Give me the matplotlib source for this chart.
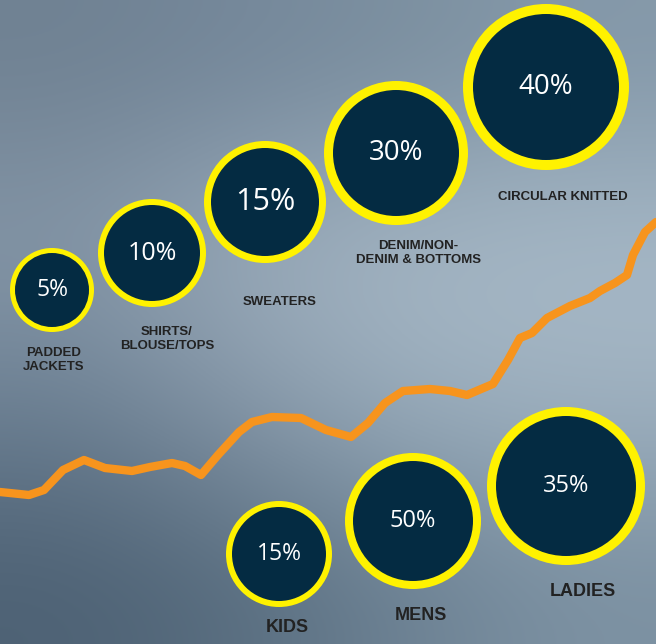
import numpy as np
import matplotlib.pyplot as plt
from matplotlib.patches import Circle
from matplotlib.colors import to_rgb

# data
top_labels = ['PADDED\nJACKETS', 'SHIRTS/\nBLOUSE/TOPS', 'SWEATERS',
              'DENIM/NON-\nDENIM & BOTTOMS', 'CIRCULAR KNITTED']
top_pcts = ['5%', '10%', '15%', '30%', '40%']
bottom_labels = ['KIDS', 'MENS', 'LADIES']
bottom_pcts = ['15%', '50%', '35%']

line_x = [0, 29, 44, 63, 84, 105, 132, 150, 172, 185, 201, 218, 239, 252, 272,
          301, 326, 351, 368, 385, 403, 430, 450, 467, 493, 508, 520, 532, 547,
          570, 590, 600, 615, 627, 633, 645, 656]
line_y = [492, 495, 490, 470, 460, 468, 471, 467, 463, 466, 475, 455, 432, 422, 417,
          418, 430, 437, 423, 403, 391, 389, 391, 395, 384, 360, 338, 333, 318,
          306, 298, 291, 283, 275, 255, 232, 222]

# layout (pixels)
top_xy = [(52, 290), (152, 253), (265, 202), (396, 153), (546, 87)]
top_r = [42, 54, 61, 72, 83]
top_ring = [5, 6, 7, 9, 10]
top_fs = [16.5, 18, 22, 20, 20]
top_lab_xy = [(54, 360), (167, 339), (280, 302), (418, 253), (563, 197)]

bot_xy = [(279, 554), (413, 521), (566, 486)]
bot_r = [53, 68, 79]
bot_ring = [6, 8, 9]
bot_fs = [16.5, 17, 17]
bot_lab_xy = [(287, 628), (421, 615), (583, 592)]

navy = '#042b42'
yellow = '#fff200'
orange = '#f7941d'
label_col = '#222222'

W, H = 656, 644
fig = plt.figure(figsize=(W / 100, H / 100), dpi=100)
ax = fig.add_axes([0, 0, 1, 1])
ax.set_xlim(0, W)
ax.set_ylim(H, 0)
ax.axis('off')

# cloudy blue-grey backdrop
bg = [['#6f8192', '#74879a', '#7b8f9f', '#8498a9'],
      ['#8798a9', '#9cadbc', '#a6b7c5', '#a8bac8'],
      ['#6d8194', '#8899aa', '#9cafbe', '#a0b2c1'],
      ['#4d6174', '#586d7f', '#6c8193', '#7c91a2']]
bg = np.array([[to_rgb(c) for c in row] for row in bg])
ax.imshow(bg, extent=(0, W, H, 0), interpolation='bicubic', aspect='auto', zorder=0)

ax.plot(line_x, line_y, color=orange, lw=6, solid_joinstyle='round',
        solid_capstyle='round', zorder=2)

def bubble(xy, r, ring, txt, fs):
    ax.add_patch(Circle(xy, r, facecolor=yellow, edgecolor='none', zorder=3))
    ax.add_patch(Circle(xy, r - ring, facecolor=navy, edgecolor='none', zorder=4))
    ax.text(xy[0], xy[1], txt, color='white', fontsize=fs, family='Open Sans',
            ha='center', va='center', zorder=5)

for i in range(len(top_pcts)):
    bubble(top_xy[i], top_r[i], top_ring[i], top_pcts[i], top_fs[i])
    ax.text(top_lab_xy[i][0], top_lab_xy[i][1], top_labels[i], color=label_col,
            fontsize=9.5, fontweight='bold', family='Liberation Sans',
            ha='center', va='center', linespacing=1.2, zorder=5)

for i in range(len(bottom_pcts)):
    bubble(bot_xy[i], bot_r[i], bot_ring[i], bottom_pcts[i], bot_fs[i])
    ax.text(bot_lab_xy[i][0], bot_lab_xy[i][1], bottom_labels[i], color=label_col,
            fontsize=13, fontweight='bold', family='Liberation Sans',
            ha='center', va='center', zorder=5)

fig.savefig('out.png', dpi=100)
